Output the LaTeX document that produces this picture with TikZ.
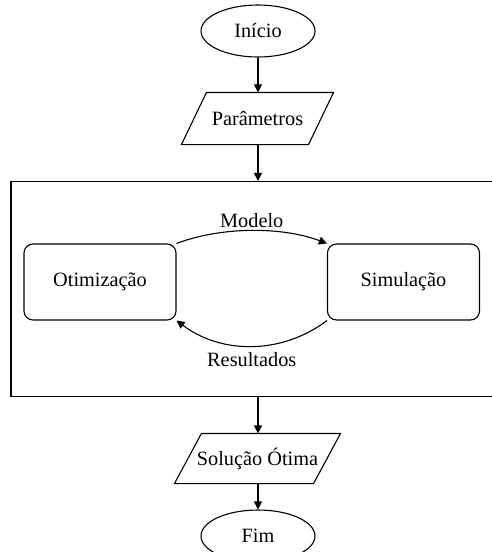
\documentclass[tikz,border=0pt]{standalone}
\usepackage{fontspec}
\setmainfont{Liberation Serif}
\usetikzlibrary{shapes.geometric,arrows.meta}
\begin{document}
\begin{tikzpicture}[x=1pt,y=-1pt, line width=1.1pt,
  every node/.style={font=\fontsize{20.3}{24}\selectfont},
  term/.style={ellipse, draw, minimum width=114pt, minimum height=52pt, inner sep=0pt},
  iotext/.style={rectangle, inner sep=0pt},
  proc/.style={draw, rounded corners=9pt, minimum width=152pt, minimum height=76pt, inner sep=0pt},
  frame/.style={draw, minimum width=484pt, minimum height=215pt, inner sep=0pt},
  flow/.style={-{Triangle[length=8pt,width=8pt]}},
  lbl/.style={inner sep=2pt},
]
\useasboundingbox (0,0) rectangle (491,552);

% flowchart nodes
\node[term] (start) at (258,31) {Início};
\node[iotext, minimum width=151pt, minimum height=51pt] (param) at (257.5,118.5) {Parâmetros};
\node[frame] (loop) at (253,289) {};
\node[proc] (opt) at (100,282) {Otimização};
\node[proc] (sim) at (403.5,282) {Simulação};
\node[iotext, minimum width=165pt, minimum height=49pt] (sol) at (257.5,458.5) {Solução Ótima};
\node[term] (stop) at (258,536) {Fim};

% parallelogram outlines of the input/output nodes
\draw (param.south west) -- ([xshift=25pt]param.north west) -- (param.north east)
  -- ([xshift=-25pt]param.south east) -- cycle;
\draw (sol.south west) -- ([xshift=27pt]sol.north west) -- (sol.north east)
  -- ([xshift=-27pt]sol.south east) -- cycle;

% main flow
\draw[flow] (start.south) -- (start.south |- param.north);
\draw[flow] (start.south |- param.south) -- (start.south |- loop.north);
\draw[flow] (start.south |- loop.south) -- (start.south |- sol.north);
\draw[flow] (start.south |- sol.south) -- (stop.north);

% optimisation / simulation loop
\draw[flow] (opt.north east) .. controls +(45,-17) and +(-45,-17) .. (sim.north west)
  node[lbl, pos=0.5, above] {Modelo};
\draw[flow] (sim.south west) .. controls +(-45,34) and +(45,34) .. (opt.south east)
  node[lbl, pos=0.5, below, yshift=-4pt] {Resultados};
\end{tikzpicture}
\end{document}
